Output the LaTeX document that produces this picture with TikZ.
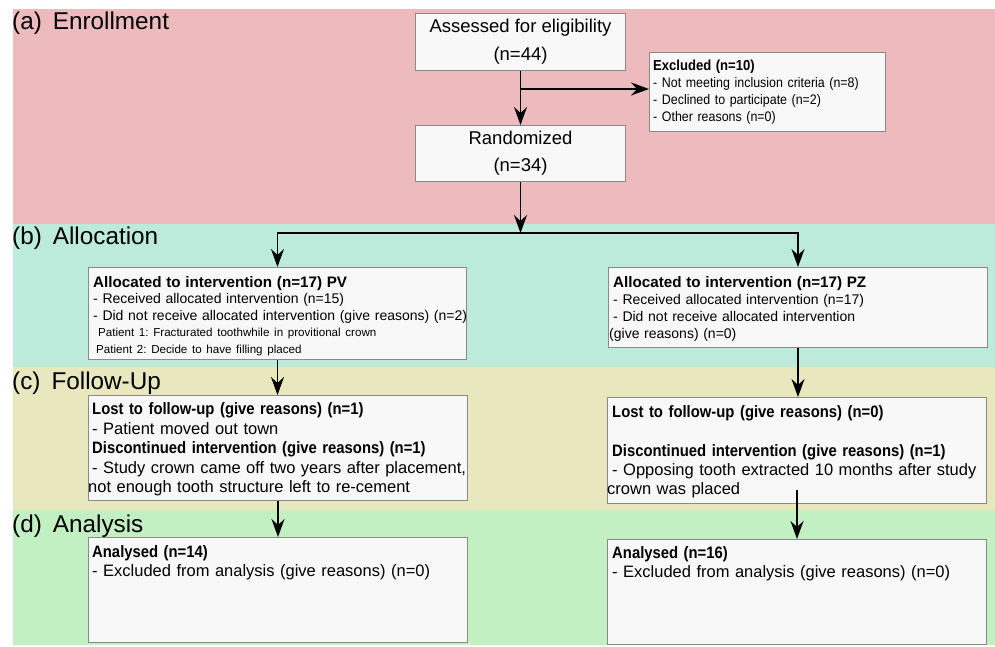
\documentclass[tikz,border=0pt]{standalone}
\usepackage{fontspec}
\setmainfont{Liberation Sans}
\newfontfamily\bfn[FakeStretch=0.9]{Liberation Sans Bold}
\newfontfamily\bfw{Liberation Sans Bold}
\newfontfamily\rgn[FakeStretch=0.9]{Liberation Sans}
\usetikzlibrary{arrows.meta,calc}
\definecolor{bandA}{HTML}{EDBBBD}
\definecolor{bandB}{HTML}{BCEBDC}
\definecolor{bandC}{HTML}{E8E7BD}
\definecolor{bandD}{HTML}{C3F0C3}
\definecolor{boxfill}{HTML}{F8F8F8}
\definecolor{boxline}{HTML}{8A8A8A}
\frenchspacing
\begin{document}
\begin{tikzpicture}[x=1pt,y=-1pt,
  box/.style={draw=boxline, fill=boxfill, line width=1pt, inner sep=0pt, anchor=north west},
  txt/.style={anchor=base west, inner sep=0pt, text width=#1, align=left},
  lab/.style={anchor=base west, inner sep=0pt, font=\fontsize{24.3}{28}\selectfont},
  conn/.style={line width=1.6pt, line join=miter},
  arr/.style={conn, -{Stealth[length=18pt,width=13pt,inset=6pt]}}]
\useasboundingbox (0,0) rectangle (995,646);
% bands
\fill[bandA] (13,9) rectangle (995,224);
\fill[bandB] (13,224) rectangle (995,367);
\fill[bandC] (13,367) rectangle (995,510);
\fill[bandD] (13,510) rectangle (995,645);
% section labels
\node[lab] (la) at (12,29) {(a)\hspace{11pt}Enrollment};
\node[lab] (lb) at (12,244) {(b)\hspace{11pt}Allocation};
\node[lab] (lc) at (12,389) {(c)\hspace{11pt}Follow-Up};
\node[lab] (ld) at (12,532.5) {(d)\hspace{11pt}Analysis};
% boxes
\node[box, minimum width=210pt, minimum height=57pt, align=center,
  font=\fontsize{18.5}{28}\selectfont] (ass) at (415,13) {Assessed for eligibility\\(n=44)};
\node[box, minimum width=236pt, minimum height=79pt] (exc) at (649,52) {};
\node[box, minimum width=210pt, minimum height=56pt, align=center,
  font=\fontsize{18.5}{27}\selectfont] (rand) at (415,125) {Randomized\\(n=34)};
\node[box, minimum width=378pt, minimum height=92pt] (al) at (88,267) {};
\node[box, minimum width=379pt, minimum height=80pt] (ar) at (608,267) {};
\node[box, minimum width=379pt, minimum height=105pt] (fl) at (88,395) {};
\node[box, minimum width=379pt, minimum height=106pt] (fr) at (607,397) {};
\node[box, minimum width=379pt, minimum height=105pt] (anl) at (88,537) {};
\node[box, minimum width=379pt, minimum height=105pt] (anr) at (607,539) {};
% texts
\node[txt=260pt, font=\rgn\fontsize{13.8}{17}\selectfont] (excT) at (653,70.5)
  {{\bfn\fontsize{14.5}{17}\selectfont Excluded (n=10)}\\
   - Not meeting inclusion criteria (n=8)\\
   - Declined to participate (n=2)\\
   - Other reasons (n=0)};
\node[txt=400pt, font=\fontsize{14}{16.5}\selectfont] (alT) at (93,287)
  {{\bfw\fontsize{15.2}{16.5}\selectfont Allocated to intervention (n=17) PV}\\
   - Received allocated intervention (n=15)\\
   - Did not receive allocated intervention (give reasons) (n=2)\\
   \hspace*{5pt}{\fontsize{11.6}{16.5}\selectfont Patient 1: Fracturated toothwhile in provitional crown}\\
   \hspace*{3pt}{\fontsize{11.6}{16.5}\selectfont Patient 2: Decide to have filling placed}};
\node[txt=400pt, font=\fontsize{14}{17}\selectfont] (arT) at (613,287)
  {{\bfw\fontsize{15.2}{17}\selectfont Allocated to intervention (n=17) PZ}\\
   - Received allocated intervention (n=17)\\
   - Did not receive allocated intervention\\
   \hspace*{-4pt}(give reasons) (n=0)};
\node[txt=420pt, font=\fontsize{16.5}{19.5}\selectfont] (flT) at (92,414.5)
  {{\bfn Lost to follow-up (give reasons) (n=1)}\\
   - Patient moved out town\\
   {\bfn Discontinued intervention (give reasons) (n=1)}\\
   - Study crown came off two years after placement,\\
   \hspace*{-4pt}not enough tooth structure left to re-cement};
\node[txt=420pt, font=\fontsize{16.5}{19.3}\selectfont] (frT) at (612,417.5)
  {{\bfn Lost to follow-up (give reasons) (n=0)}\\[19.3pt]
   {\bfn Discontinued intervention (give reasons) (n=1)}\\
   - Opposing tooth extracted 10 months after study\\
   \hspace*{-5pt}crown was placed};
\node[txt=420pt, font=\fontsize{16.5}{19}\selectfont] (anlT) at (92,557.5)
  {{\bfn Analysed (n=14)}\\
   - Excluded from analysis (give reasons) (n=0)};
\node[txt=420pt, font=\fontsize{16.5}{19}\selectfont] (anrT) at (612,558.5)
  {{\bfn Analysed (n=16)}\\
   - Excluded from analysis (give reasons) (n=0)};
% connectors
\coordinate (ybr) at (0,89);
\coordinate (ysp) at (0,233);
\coordinate (br) at (ass.south |- ybr);
\coordinate (sp) at (rand.south |- ysp);
\coordinate (frs) at ($(fr.south)+(0,-14)$);
\draw[arr] (ass.south) -- (ass.south |- rand.north);
\draw[arr] (br) -- (exc.west |- br);
\draw[arr] (rand.south) -- (sp);
\draw[arr] (sp) -| (al.north);
\draw[arr] (sp) -| (ar.north);
\draw[arr] (al.south) -- (al.south |- fl.north);
\draw[arr] (ar.south) -- (ar.south |- fr.north);
\draw[arr] (fl.south) -- (fl.south |- anl.north);
\draw[arr] (frs) -- (frs |- anr.north);
\end{tikzpicture}
\end{document}
